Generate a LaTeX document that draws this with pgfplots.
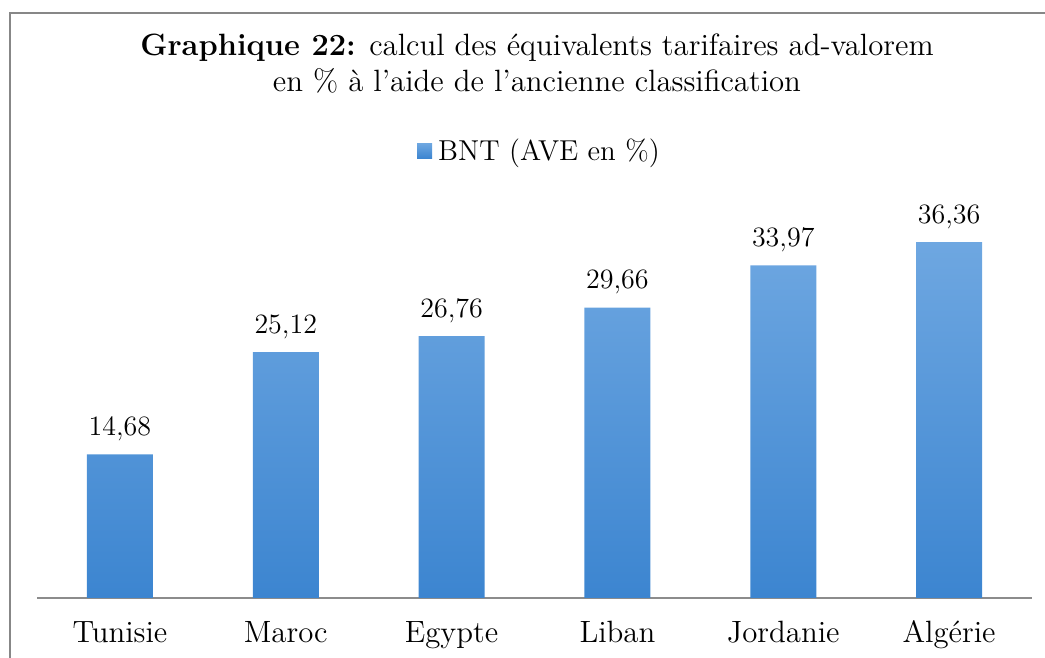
\documentclass[border=0pt]{standalone}
\usepackage{fontspec}
\setmainfont{lmroman12-regular.otf}[BoldFont=lmroman12-bold.otf]
\usepackage{pgfplots}
\pgfplotsset{compat=1.18}
\definecolor{barTop}{HTML}{6EA7E1}
\definecolor{barBot}{HTML}{3C85D0}
\definecolor{barMid}{HTML}{4F93DA}
\definecolor{frameGray}{HTML}{878787}
\definecolor{axGray}{HTML}{8C8C8C}
\begin{document}
\begin{tikzpicture}
\path[use as bounding box] (0,0) rectangle (522.5pt,329pt);
\draw[frameGray, line width=0.6pt] (5pt,0) -- (5pt,322.5pt) -- (522.5pt,322.5pt);
\begin{axis}[
  at={(18.5pt,30pt)}, anchor=south west,
  scale only axis, width=497.5pt, height=195.8pt,
  ymin=0, ymax=40, xmin=-0.5, xmax=5.5,
  ybar, bar width=33pt,
  axis y line=none,
  axis x line*=bottom,
  x axis line style={axGray, line width=0.6pt, -},
  xtick=data, major tick length=0pt,
  xticklabels={Tunisie,Maroc,Egypte,Liban,Jordanie,Algérie},
  xticklabel style={anchor=base, yshift=-22.5pt, font=\fontsize{15.4}{17}\selectfont},
  nodes near coords={\pgfmathprintnumber[use comma,fixed,fixed zerofill,precision=2,assume math mode=true]{\pgfplotspointmeta}},
  nodes near coords style={anchor=base, yshift=9.5pt, font=\fontsize{14}{16}\selectfont, text=black},
  title={\textbf{Graphique 22:} calcul des équivalents tarifaires ad-valorem\\en \% à l'aide de l'ancienne classification},
  title style={at={(axis description cs:0.5025,1.335)}, anchor=center, align=center, font=\fontsize{15.4}{18}\selectfont},
  legend style={at={(axis description cs:0.505,1.141)}, anchor=center, draw=none, fill=none,
     font=\fontsize{14.4}{16}\selectfont, nodes={inner sep=1pt},
     /tikz/every odd column/.append style={column sep=2pt}},
  legend image code/.code={\fill[barMid] (0pt,-3.6pt) rectangle (7.5pt,3.9pt);},
  clip=false,
]
\addplot[draw=none, top color=barTop, bottom color=barBot] coordinates {
  (0,14.68) (1,25.12) (2,26.76) (3,29.66) (4,33.97) (5,36.36)};
\addlegendentry{BNT (AVE en \%)}
\end{axis}
\end{tikzpicture}
\end{document}
